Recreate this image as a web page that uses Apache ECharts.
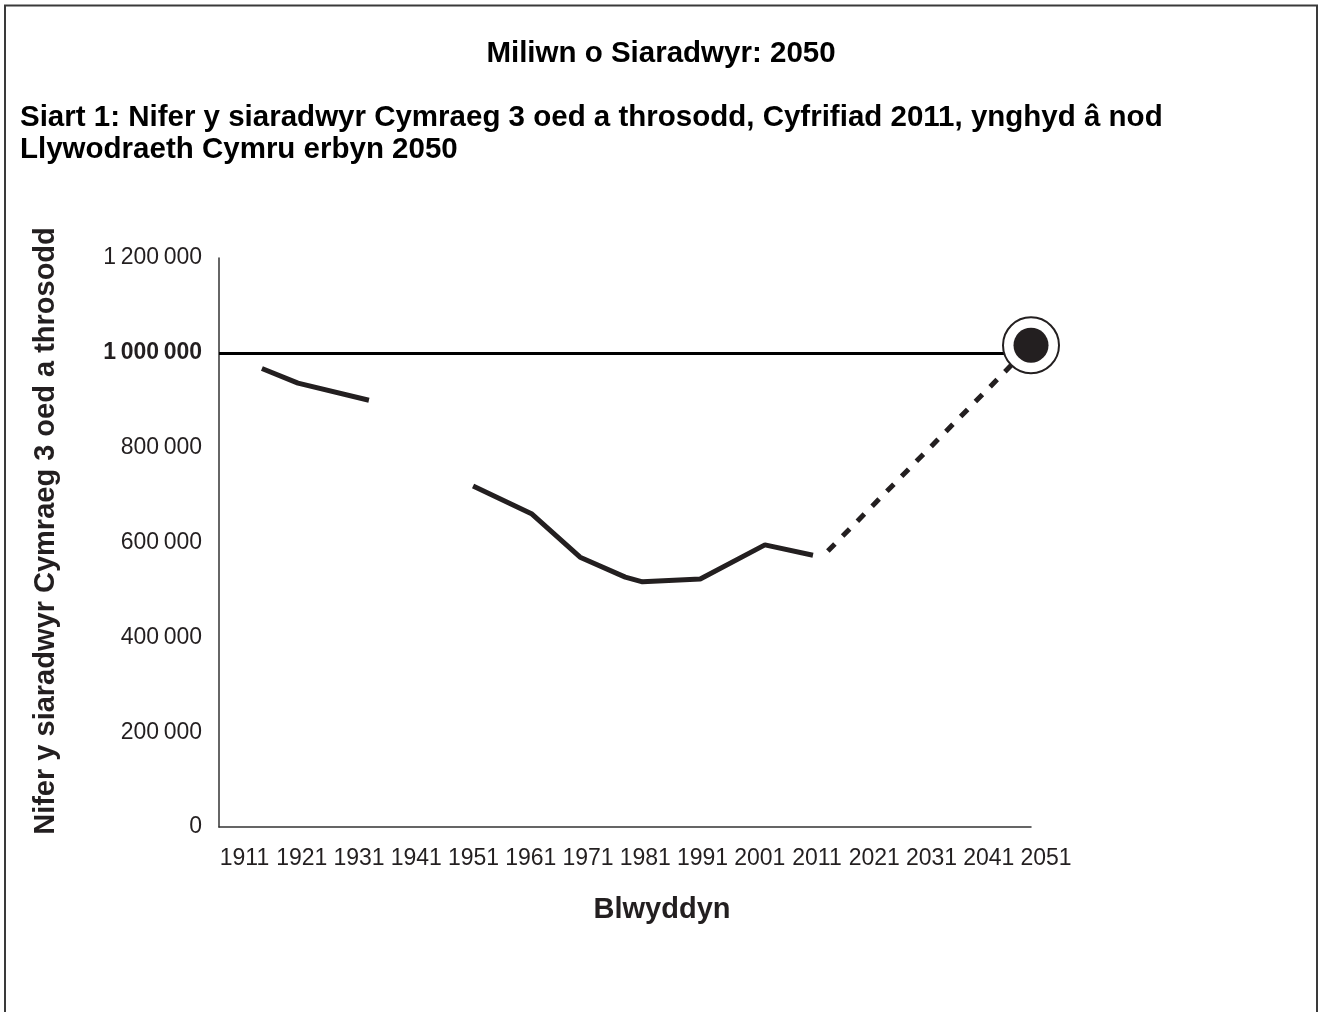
<!DOCTYPE html>
<html><head><meta charset="utf-8">
<script src="https://cdn.jsdelivr.net/npm/echarts/dist/echarts.min.js"></script>
<style>html,body{margin:0;padding:0;background:#fff}#c{width:1320px;height:1012px}</style>
</head><body><div id="c"></div>
<script>
// ---- data ----
var xTickLabels = ['1911','1921','1931','1941','1951','1961','1971','1981','1991','2001','2011','2021','2031','2041','2051'];
var yTickLabels = ['0','200\u2009000','400\u2009000','600\u2009000','800\u2009000','1\u2009000\u2009000','1\u2009200\u2009000'];
var yBoldLabel = '1\u2009000\u2009000';
// positions of the drawn vertices (year scale) and values
var years1 = [1914, 1920.3, 1932.7];
var speakers1 = [967000, 936000, 900000];
var years2 = [1950.9, 1961.2, 1969.6, 1977.5, 1980.5, 1990.6, 2001.9, 2010.3];
var speakers2 = [719000, 660000, 569000, 527000, 517000, 523000, 595000, 573000];
var targetYears = [2012.9, 2048.4];
var targetValues = [582000, 1016000];
var goalValue = 1000000;
var goalYear = 2048.4;
var goalMarker = 1016000;

var FONT = '"Liberation Sans", Arial, Helvetica, sans-serif';
var INK = '#231f20';

function zip(a, b) { return a.map(function (v, i) { return [v, b[i]]; }); }

var chart = echarts.init(document.getElementById('c'), null, {renderer: 'canvas'});
chart.setOption({
  animation: false,
  backgroundColor: '#fff',
  grid: [
    {left: 219, right: 289, top: 258, bottom: 185, containLabel: false},
    {left: 244.5, right: 274, top: 258, bottom: 185, containLabel: false}
  ],
  xAxis: [
    {type: 'value', gridIndex: 0, min: 1906.5, max: 2048.4,
     axisLine: {show: true, lineStyle: {color: '#333', width: 1.5}},
     axisTick: {show: false}, axisLabel: {show: false}, splitLine: {show: false}},
    {type: 'category', gridIndex: 1, data: xTickLabels, boundaryGap: false,
     axisLine: {show: false}, axisTick: {show: false}, splitLine: {show: false},
     axisLabel: {interval: 0, margin: 20, fontSize: 23, fontFamily: FONT, color: INK}}
  ],
  yAxis: [
    {type: 'value', gridIndex: 0, min: 0, max: 1200000, interval: 200000,
     axisLine: {show: true, lineStyle: {color: '#333', width: 1.5}},
     axisTick: {show: false}, splitLine: {show: false},
     axisLabel: {margin: 17, fontSize: 23, fontFamily: FONT, color: INK,
       formatter: function (v) {
         var s = yTickLabels[Math.round(v / 200000)];
         return s === yBoldLabel ? '{b|' + s + '}' : s;
       },
       rich: {b: {fontWeight: 'bold', fontSize: 23, fontFamily: FONT, color: INK}}}},
    {type: 'value', gridIndex: 1, show: false, min: 0, max: 1}
  ],
  series: [
    {type: 'line', xAxisIndex: 0, yAxisIndex: 0, data: zip(years1, speakers1), symbol: 'none',
     lineStyle: {color: INK, width: 5}, z: 3,
     markLine: {silent: true, symbol: ['none', 'none'], animation: false,
       label: {show: false}, lineStyle: {color: '#000', width: 3, type: 'solid'},
       data: [{yAxis: goalValue}]}},
    {type: 'line', xAxisIndex: 0, yAxisIndex: 0, data: zip(years2, speakers2), symbol: 'none',
     lineStyle: {color: INK, width: 5}, z: 3},
    {type: 'line', xAxisIndex: 0, yAxisIndex: 0, data: zip(targetYears, targetValues), symbol: 'none',
     lineStyle: {color: INK, width: 5, type: [10, 11]}, z: 3},
    {type: 'scatter', xAxisIndex: 0, yAxisIndex: 0, data: [[goalYear, goalMarker]], symbol: 'circle',
     symbolSize: 56, clip: false, z: 5,
     itemStyle: {color: '#fff', borderColor: INK, borderWidth: 2, opacity: 1}},
    {type: 'scatter', xAxisIndex: 0, yAxisIndex: 0, data: [[goalYear, goalMarker]], symbol: 'circle',
     symbolSize: 35, clip: false, z: 6,
     itemStyle: {color: INK, opacity: 1}}
  ],
  graphic: [
    {type: 'rect', shape: {x: 5, y: 5.5, width: 1312, height: 1200}, silent: true,
     style: {fill: 'none', stroke: '#3a3a3a', lineWidth: 2}},
    {type: 'text', x: 661, y: 54, silent: true,
     style: {text: 'Miliwn o Siaradwyr: 2050', font: 'bold 29.5px ' + FONT, fill: '#000',
       textAlign: 'center', textVerticalAlign: 'middle', verticalAlign: 'middle'}},
    {type: 'text', x: 20, y: 118, silent: true,
     style: {text: 'Siart 1: Nifer y siaradwyr Cymraeg 3 oed a throsodd, Cyfrifiad 2011, ynghyd â nod', font: 'bold 29.5px ' + FONT, fill: '#000',
       textAlign: 'left', textVerticalAlign: 'middle', verticalAlign: 'middle'}},
    {type: 'text', x: 20, y: 150, silent: true,
     style: {text: 'Llywodraeth Cymru erbyn 2050', font: 'bold 29.5px ' + FONT, fill: '#000',
       textAlign: 'left', textVerticalAlign: 'middle', verticalAlign: 'middle'}},
    {type: 'text', x: 46, y: 531, rotation: Math.PI / 2, silent: true,
     style: {text: 'Nifer y siaradwyr Cymraeg 3 oed a throsodd', font: 'bold 29px ' + FONT, fill: INK,
       textAlign: 'center', textVerticalAlign: 'middle', verticalAlign: 'middle'}},
    {type: 'text', x: 662, y: 910, silent: true,
     style: {text: 'Blwyddyn', font: 'bold 29px ' + FONT, fill: INK,
       textAlign: 'center', textVerticalAlign: 'middle', verticalAlign: 'middle'}}
  ]
});
</script>
</body></html>
